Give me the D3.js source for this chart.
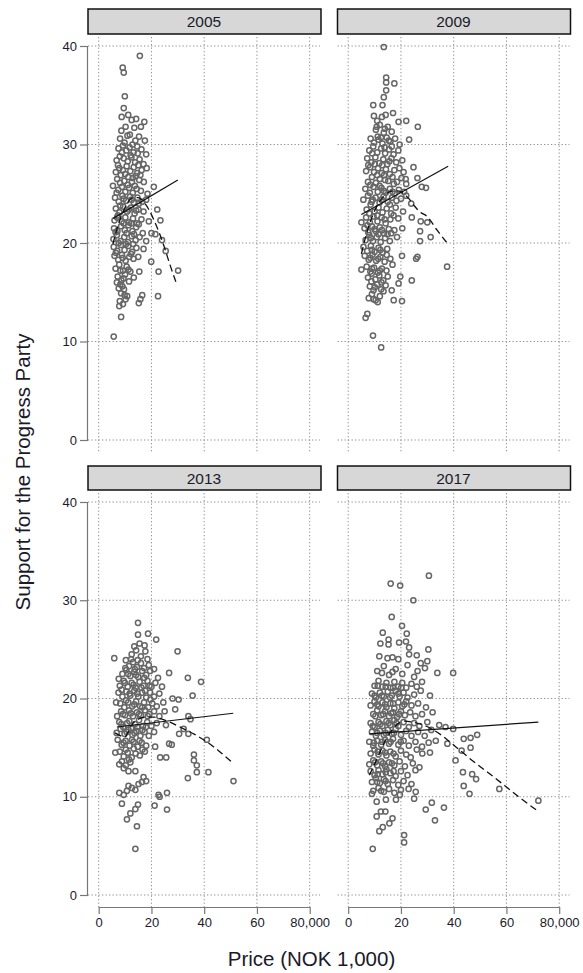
<!DOCTYPE html>
<html><head><meta charset="utf-8">
<script src="https://cdn.jsdelivr.net/npm/d3@7"></script>
<style>body{margin:0;background:#fff}svg{display:block}</style>
</head><body>
<script>
// ---------- DATA ----------
const years = ["2005", "2009", "2013", "2017"];
const yTicks = [0, 10, 20, 30, 40];
const xTicks = [0, 20, 40, 60, 80];
const xTickLabels = ["0", "20", "40", "60", "80,000"];
const xTitle = "Price (NOK 1,000)";
const yTitle = "Support for the Progress Party";

const pts2005 = [[15.6,39.0],[9.1,37.8],[9.5,37.3],[9.9,34.9],[9.5,33.7],[8.7,32.8],[11.2,33.0],[12.5,32.5],[14.2,32.6],[17.3,32.3],[16.0,31.8],[13.5,31.7],[10.2,31.8],[8.6,31.4],[11.8,31.0],[15.3,30.8],[17.5,30.4],[9.8,30.2],[12.8,30.0],[14.6,29.8],
[7.5,29.6],[8.8,29.2],[10.5,29.4],[11.7,29.7],[13.2,29.2],[14.8,29.1],[16.2,29.5],[18.0,29.0],
[6.8,28.4],[8.0,28.8],[9.5,28.6],[11.0,28.3],[12.4,28.7],[13.8,28.2],[15.5,28.5],[17.0,28.0],
[6.5,27.2],[7.8,27.6],[9.2,27.4],[10.6,27.8],[12.0,27.3],[13.3,27.7],[14.6,27.1],[16.3,27.4],[18.2,27.6],
[7.0,26.5],[8.4,26.9],[9.7,26.3],[11.2,26.7],[12.6,26.2],[14.0,26.8],[15.4,26.4],[17.1,26.2],
[5.4,25.8],[7.4,25.4],[8.8,25.7],[10.1,25.2],[11.5,25.6],[12.9,25.1],[14.4,25.5],[16.0,25.3],[20.9,25.7],[18.5,25.0],
[6.2,24.6],[7.6,24.2],[9.0,24.8],[10.4,24.3],[11.9,24.7],[13.3,24.1],[14.7,24.6],[16.5,24.2],[18.0,24.4],
[6.5,23.5],[7.9,23.1],[9.3,23.7],[10.8,23.2],[12.2,23.6],[13.6,23.0],[15.1,23.4],[17.0,23.2],[22.2,23.4],
[6.0,22.3],[7.3,22.8],[8.7,22.2],[10.1,22.6],[11.5,22.1],[13.0,22.5],[14.5,22.0],[16.2,22.4],[23.4,22.3],[19.0,22.2],
[5.8,21.5],[7.1,21.2],[8.5,21.7],[9.9,21.3],[11.3,21.8],[12.8,21.2],[14.2,21.6],[16.7,21.0],[20.0,21.0],[21.5,20.9],
[5.6,20.4],[6.9,20.8],[8.3,20.2],[9.7,20.6],[11.1,20.1],[12.5,20.7],[14.0,20.3],[15.5,20.6],[24.0,20.3],[18.0,20.2],
[5.7,19.6],[7.0,19.2],[8.4,19.8],[9.8,19.3],[11.2,19.7],[12.7,19.1],[14.3,19.5],[25.4,19.2],[17.0,19.4],
[6.0,18.7],[7.4,18.3],[8.8,18.8],[10.2,18.2],[11.6,18.6],[13.2,18.4],[19.9,18.1],[15.0,18.6],
[6.4,17.4],[7.8,17.8],[9.2,17.2],[10.6,17.6],[12.0,17.1],[15.4,17.1],[22.7,17.1],[30.1,17.2],
[7.2,16.6],[8.6,16.2],[10.0,16.8],[13.3,16.5],
[7.6,15.4],[8.5,14.9],[9.6,15.3],[10.8,14.6],[8.0,14.1],[9.2,13.8],[10.2,14.3],[7.8,13.6],[9.0,15.6],[16.5,14.7],[15.2,13.9],[15.8,14.3],[22.5,14.6],
[8.5,12.5],[5.7,10.5],
[8.1,30.6],[10.9,30.9],[13.9,30.4],[9.2,29.9],[12.1,28.9],[15.0,27.9],[7.3,27.9],[10.0,27.0],[12.9,26.6],[15.8,26.9],[8.1,26.1],[11.0,25.9],[13.7,25.8],[6.8,25.1],[9.5,24.5],[12.5,24.4],[15.3,24.0],[8.2,23.8],[11.4,23.4],[14.2,23.3],[7.0,22.6],[9.4,22.0],[12.3,22.0],[15.2,21.9],[6.4,21.1],[10.6,21.0],[13.4,20.9],[7.6,20.0],[10.4,19.9],[13.1,19.9],[6.5,19.0],[9.1,18.5],[12.2,18.9],[8.2,17.2],[11.3,17.3],[6.9,16.0],[9.4,16.4],[11.5,16.1],[8.2,15.8],[9.8,14.7]];

const pts2009 = [[13.5,39.9],[14.4,36.8],[14.4,36.3],[17.5,36.2],[14.4,35.5],[13.5,34.8],[13.0,34.0],[9.5,34.0],[17.0,33.2],[9.75,32.9],[11.0,32.4],[19.1,32.3],[22.0,32.4],[26.4,31.8],[23.1,30.5],
[10.5,31.5],[12.0,32.0],[13.5,31.2],[15.0,31.8],[16.5,31.3],[12.8,32.8],[14.2,33.0],[11.2,30.8],
[8.5,30.6],[9.8,30.2],[11.5,30.5],[13.0,30.1],[14.6,30.7],[16.0,30.3],[17.8,30.6],[19.5,30.0],
[8.0,29.4],[9.5,29.8],[11.0,29.2],[12.5,29.6],[14.0,29.1],[15.5,29.5],[17.2,29.0],[19.0,29.4],
[7.2,28.6],[8.8,28.2],[10.3,28.7],[11.8,28.1],[13.3,28.5],[14.8,28.0],[16.4,28.6],[18.2,28.2],[20.5,28.4],
[6.8,27.3],[8.3,27.7],[9.8,27.2],[11.3,27.6],[12.7,27.1],[14.3,27.5],[15.8,27.0],[17.5,27.4],[19.4,27.6],[21.0,27.2],
[7.5,26.2],[9.0,26.7],[10.5,26.1],[12.0,26.5],[13.6,26.9],[15.2,26.3],[16.8,26.7],[18.5,26.2],[20.2,26.6],[22.0,26.0],
[6.5,25.5],[8.2,25.1],[9.6,25.7],[11.2,25.2],[12.6,25.6],[14.2,25.1],[15.8,25.5],[17.6,25.0],[19.2,25.4],[21.2,25.2],
[5.75,24.4],[7.5,24.8],[8.9,24.2],[10.4,24.6],[11.9,24.1],[13.4,24.7],[15.0,24.2],[16.6,24.6],[18.3,24.3],[20.0,24.5],
[7.0,23.4],[8.5,23.9],[10.0,23.2],[11.5,23.6],[13.0,23.1],[14.6,23.5],[16.3,23.0],[18.0,23.6],[20.8,23.2],
[5.0,22.1],[6.8,22.6],[8.2,22.1],[9.6,22.7],[11.1,22.2],[12.7,22.6],[14.2,22.0],[16.0,22.4],[19.0,22.5],
[6.2,21.5],[7.6,21.1],[9.0,21.7],[10.5,21.2],[12.0,21.6],[13.6,21.0],[15.4,21.4],[17.5,21.3],
[6.6,20.3],[8.0,20.8],[9.4,20.2],[10.8,20.6],[12.3,20.1],[14.0,20.5],[15.8,20.2],[18.5,20.6],
[5.8,19.6],[7.2,19.2],[8.6,19.7],[10.0,19.1],[11.5,19.5],[13.0,19.0],[14.8,19.4],
[6.25,18.7],[7.8,18.3],[9.2,18.8],[10.6,18.2],[12.2,18.6],[13.8,18.1],[20.4,18.7],[16.0,18.4],
[5.0,17.3],[7.0,17.6],[8.4,17.1],[9.8,17.5],[11.3,17.0],[12.8,17.4],[14.5,17.2],[16.8,17.8],
[7.5,16.5],[8.9,16.9],[10.3,16.3],[11.8,16.7],[13.3,16.2],[15.0,16.6],[19.75,16.6],
[8.2,15.6],[9.6,15.2],[11.0,15.8],[12.5,15.3],[14.2,15.7],[19.1,15.9],[16.5,15.2],
[7.8,14.4],[9.0,14.8],[10.4,14.2],[12.0,14.6],[17.25,14.2],[20.4,14.1],[11.2,14.0],
[7.25,12.8],[6.6,12.4],[9.4,10.6],[12.5,9.4],
[24.1,22.6],[23.9,24.0],[27.5,22.2],[30.0,22.1],[31.25,20.6],[27.25,21.2],[27.25,20.2],[37.5,17.6],[26.25,18.6],[25.75,18.4],[24.1,16.2],[24.75,27.7],[26.25,26.6],[27.9,25.7],[29.5,25.6],[20.5,21.5],[22.0,24.8],[21.8,26.5],
[10.8,31.8],[13.9,31.6],[12.4,30.7],[15.4,30.4],[9.1,29.1],[13.8,29.7],[16.5,29.8],[10.1,28.0],[12.9,27.9],[15.6,28.3],[7.6,27.9],[11.0,26.9],[14.0,26.4],[17.3,26.0],[8.4,25.9],[11.9,25.8],[13.5,25.3],[16.8,25.2],[9.3,24.4],[12.7,24.4],[15.8,23.9],[8.0,23.0],[11.0,22.8],[13.8,22.4],[17.2,22.8],[7.3,21.8],[10.0,21.4],[12.8,21.3],[16.3,21.0],[8.6,20.5],[11.5,20.9],[14.9,20.9],[9.0,19.3],[12.2,19.3],[8.4,18.5],[11.4,18.4],[14.6,18.8],[9.0,17.4],[12.0,17.2],[8.8,16.1],[12.6,16.0],[10.1,15.5],[13.4,15.1],[9.6,14.3]];

const pts2013 = [[14.9,27.7],[14.9,26.5],[18.7,26.6],[21.8,26.0],[17.4,25.4],[17.7,24.8],[29.9,24.8],[5.9,24.1],[10.3,23.9],[26.7,22.6],[33.8,22.1],[38.8,21.7],[7.6,22.0],[35.6,20.3],[28.0,20.0],[30.3,19.9],[6.6,19.6],[25.0,18.7],[29.0,18.9],[34.0,18.2],[34.8,17.9],[30.5,16.4],[32.2,16.9],[34.0,16.4],[41.0,15.8],[26.7,15.4],[27.7,15.3],[21.4,15.1],[6.3,14.5],[23.3,14.0],[25.6,14.0],[36.1,14.3],[36.1,13.7],[37.2,13.2],[37.2,12.5],[41.6,12.5],[33.8,11.9],[51.1,11.6],[7.8,13.3],[11.3,12.6],[13.9,12.6],[17.0,12.0],[18.0,11.6],[16.4,11.5],[15.1,11.3],[11.3,11.1],[12.6,10.9],[13.9,10.7],[7.8,10.4],[9.5,10.2],[10.7,10.6],[8.8,9.3],[22.7,10.2],[23.1,10.0],[25.9,10.4],[21.2,9.1],[25.9,8.7],[14.9,9.2],[13.9,8.75],[12.0,8.3],[10.7,7.7],[14.5,7.0],[13.9,4.7],
[11.5,23.3],[13.0,23.7],[14.5,23.2],[16.0,23.6],[19.0,23.4],[21.0,23.0],
[9.0,22.5],[10.5,22.9],[12.0,22.3],[13.5,22.7],[15.0,22.2],[16.5,22.8],[18.0,22.4],[19.5,22.8],[22.5,22.1],
[8.0,21.3],[9.5,21.8],[11.0,21.2],[12.5,21.6],[14.0,21.1],[15.5,21.7],[17.0,21.3],[18.5,21.8],[20.0,21.2],[21.5,21.6],[24.0,21.2],
[7.5,20.6],[9.0,20.2],[10.5,20.7],[12.0,20.3],[13.5,20.8],[15.0,20.2],[16.5,20.6],[18.0,20.1],[19.5,20.6],[21.0,20.2],[23.0,20.5],
[8.2,19.5],[9.7,19.1],[11.2,19.6],[12.7,19.2],[14.2,19.7],[15.7,19.2],[17.2,19.6],[18.8,19.1],[20.3,19.5],[22.0,19.2],[24.5,19.6],
[7.0,18.2],[8.5,18.7],[10.0,18.3],[11.5,18.8],[13.0,18.2],[14.5,18.6],[16.0,18.3],[17.6,18.8],[19.2,18.4],[21.0,18.7],[23.0,18.2],
[7.8,17.6],[9.3,17.1],[10.8,17.5],[12.3,17.0],[13.8,17.4],[15.3,17.8],[16.8,17.2],[18.4,17.6],[20.0,17.2],[22.0,17.5],[25.5,17.3],
[6.8,16.5],[8.3,16.9],[9.8,16.4],[11.3,16.8],[12.8,16.3],[14.3,16.7],[15.8,16.2],[17.4,16.6],[19.0,16.2],[21.0,16.6],
[7.2,15.8],[8.7,15.3],[10.2,15.7],[11.7,15.2],[13.2,15.6],[14.8,15.1],[16.3,15.5],[18.0,15.2],
[8.0,14.6],[9.5,14.1],[11.0,14.5],[12.5,14.0],[14.0,14.4],[15.6,14.2],[17.5,14.6],
[8.8,13.6],[10.3,13.2],[12.0,13.5],[9.5,12.9],
[12.5,24.5],[14.2,24.9],[16.0,24.3],[13.5,25.3],[15.5,25.6],[18.5,24.0],
[12.3,24.0],[14.8,23.9],[10.1,23.1],[13.7,23.0],[17.2,23.1],[11.2,22.5],[14.2,22.4],[17.3,22.1],[9.9,21.6],[13.2,21.4],[16.2,21.1],[19.3,21.3],[8.7,20.9],[11.7,20.5],[14.6,20.5],[17.6,20.8],[10.4,19.8],[13.5,19.4],[16.5,19.1],[19.6,19.9],[9.2,18.4],[12.2,18.5],[15.3,18.4],[18.6,18.2],[8.6,17.4],[11.6,17.7],[14.6,17.1],[17.9,17.1],[10.6,16.6],[13.6,16.5],[16.6,16.8],[9.4,15.5],[12.6,15.8],[15.5,15.7],[10.3,14.8],[13.3,14.9],[16.6,14.8],[11.5,13.8]];

const pts2017 = [[16.1,31.7],[19.7,31.5],[30.6,32.5],[24.7,30.0],[16.5,28.3],[20.4,27.4],[13.1,26.7],[15.3,26.0],[22.2,26.6],[12.2,25.6],[15.3,25.5],[19.3,25.7],[21.9,25.8],[23.1,25.2],[30.4,25.0],[30.0,23.8],[11.8,24.3],[14.9,24.1],[16.8,24.2],[23.1,24.5],[12.8,22.6],[16.8,22.7],[26.3,22.8],[29.1,23.1],[33.8,22.6],[39.8,22.6],[36.9,17.1],[39.8,16.9],[33.2,15.7],[37.6,15.4],[43.8,15.9],[46.4,16.0],[48.9,16.3],[43.0,14.7],[46.4,15.0],[40.7,13.7],[43.5,12.5],[47.0,12.3],[48.5,11.8],[43.8,11.1],[46.0,10.3],[57.3,10.8],[72.1,9.6],[29.4,8.7],[31.7,9.4],[36.3,8.9],[32.9,7.6],[21.2,6.1],[21.2,5.35],[9.3,4.7],[11.8,6.5],[13.1,6.9],[15.6,7.3],[16.8,7.8],[12.4,8.5],[14.1,8.5],[10.8,8.0],[9.0,10.3],[10.8,9.5],[14.3,9.7],[18.1,9.7],[19.6,10.2],[25.0,9.8],[25.6,10.5],[22.9,10.8],[23.7,14.0],[28.1,14.4],
[10.0,21.3],[11.5,21.8],[13.0,21.2],[14.5,21.6],[16.0,21.1],[17.5,21.7],[19.0,21.2],[20.5,21.6],[22.0,21.1],[24.0,21.5],[26.0,21.2],[28.0,21.7],
[9.0,20.5],[10.5,20.1],[12.0,20.6],[13.5,20.2],[15.0,20.7],[16.5,20.3],[18.0,20.8],[19.5,20.2],[21.0,20.6],[22.5,20.1],[25.0,20.4],[27.5,20.8],[31.0,20.3],
[8.5,19.3],[10.0,19.7],[11.5,19.2],[13.0,19.6],[14.5,19.1],[16.0,19.5],[17.5,19.0],[19.0,19.6],[20.5,19.2],[22.0,19.7],[24.0,19.3],[26.5,19.5],[29.5,19.1],
[9.5,18.4],[11.0,18.8],[12.5,18.3],[14.0,18.7],[15.5,18.2],[17.0,18.6],[18.5,18.1],[20.0,18.7],[21.5,18.3],[23.5,18.6],[25.5,18.2],[28.0,18.4],[32.0,18.6],
[8.5,17.5],[10.0,17.1],[11.5,17.6],[13.0,17.2],[14.5,17.7],[16.0,17.3],[17.5,17.8],[19.0,17.2],[21.0,17.6],[23.0,17.1],[25.0,17.5],[27.0,17.2],[30.0,17.6],[34.5,17.3],
[9.0,16.6],[10.5,16.2],[12.0,16.7],[13.5,16.3],[15.0,16.8],[16.5,16.4],[18.0,16.9],[20.0,16.3],[22.0,16.7],[24.0,16.2],[26.5,16.6],[29.0,16.2],[31.5,16.8],
[8.0,15.6],[9.5,15.2],[11.0,15.7],[12.5,15.3],[14.0,15.8],[15.5,15.4],[17.0,15.9],[19.0,15.3],[21.0,15.7],[23.0,15.2],[25.5,15.6],[28.0,15.1],[30.5,15.5],
[8.5,14.4],[10.0,14.8],[11.5,14.3],[13.0,14.7],[14.5,14.2],[16.0,14.6],[18.0,14.1],[20.0,14.7],[22.0,14.3],[26.0,14.8],[31.0,14.5],
[8.0,13.3],[9.5,13.7],[11.0,13.2],[12.5,13.6],[14.0,13.1],[15.5,13.5],[17.5,13.2],[19.5,13.6],[21.5,13.1],[24.5,13.4],[27.0,13.0],
[8.5,12.6],[10.0,12.2],[11.5,12.7],[13.0,12.3],[14.5,12.8],[16.0,12.4],[18.0,12.1],[20.0,12.6],[22.5,12.2],[25.5,12.7],
[9.0,11.5],[10.5,11.9],[12.0,11.4],[13.5,11.8],[15.0,11.3],[17.0,11.7],[19.0,11.2],[21.0,11.6],[24.0,11.3],
[9.5,10.6],[11.5,10.9],[13.5,10.5],[15.5,10.8],[17.5,10.4],[20.0,10.7],
[11.0,22.8],[13.5,23.3],[15.5,22.4],[18.0,23.0],[20.5,22.5],[22.5,23.4],[25.0,22.2],[27.5,23.6],[19.0,24.0],[26.0,24.4],
[11.2,21.3],[14.2,21.2],[17.0,21.1],[20.1,21.1],[10.0,20.3],[12.8,20.3],[15.9,20.1],[19.0,20.5],[11.0,19.4],[14.0,19.4],[17.0,19.5],[21.3,19.4],[10.3,18.2],[13.3,18.4],[16.3,18.5],[19.3,18.4],[9.3,17.2],[12.2,17.4],[15.3,17.5],[18.3,17.5],[11.0,16.5],[14.2,16.5],[17.3,16.5],[9.7,15.5],[12.8,15.6],[16.1,15.6],[19.9,15.6],[11.2,14.6],[14.0,14.5],[17.2,14.4],[10.2,13.5],[13.2,13.4],[16.6,13.4],[11.2,12.3],[14.2,12.5],[17.2,12.6],[11.0,11.5],[14.2,11.6],[12.5,10.6]];

// linear fit (solid) and flexible fit (dashed)
const lin2005 = [[5.5,22.5],[30.0,26.4]];
const lin2009 = [[5.0,22.9],[37.9,27.8]];
const lin2013 = [[6.9,17.1],[51.0,18.5]];
const lin2017 = [[8.0,16.4],[72.1,17.6]];
const fit2005 = [[5.4,19.9],[7,21.5],[9,23.0],[11,24.1],[13,24.6],[15,24.6],[17,24.2],[19,23.4],[21,22.3],[23,21.0],[25,19.5],[27,17.8],[29.5,15.9]];
const fit2009 = [[5,18.9],[7,21.0],[9,22.6],[11,23.8],[13,24.6],[15,25.1],[17,25.3],[19,25.3],[21,25.0],[23,24.5],[25,23.8],[27,23.2],[29.9,22.7],[33.7,21.3],[37.5,20.0]];
const fit2013 = [[6.2,16.5],[10,16.1],[11,16.5],[12.5,17.3],[15,17.9],[18,18.1],[21,18.1],[24,17.9],[27,17.6],[30,17.2],[33,16.8],[36,16.4],[38.5,16.0],[41.5,15.5],[43.5,15.1],[46.7,14.4],[51,13.4]];
const fit2017 = [[8,12.2],[11.2,14.0],[13.5,15.4],[15.6,16.4],[18.7,17.4],[21.5,17.7],[24.4,17.6],[29.4,17.2],[35.7,16.2],[40.7,15.1],[47,13.7],[53.3,12.4],[59.5,11.1],[64.6,10.0],[72.1,8.5]];

const panelPoints = [pts2005, pts2009, pts2013, pts2017];
const panelLin = [lin2005, lin2009, lin2013, lin2017];
const panelFit = [fit2005, fit2009, fit2013, fit2017];

// ---------- LAYOUT ----------
const W = 583, H = 973;
const FONT = "'Liberation Sans', Arial, Helvetica, sans-serif";
const cols = [{left: 88, right: 320}, {left: 337.5, right: 569.5}];
const rows = [
  {stripTop: 9, stripBot: 34, plotTop: 37, y40: 46, y0: 440, plotBot: 452},
  {stripTop: 466, stripBot: 490, plotTop: 493, y40: 502, y0: 895, plotBot: 907}
];

const svg = d3.select("body").append("svg").attr("width", W).attr("height", H)
  .style("font-family", FONT);

years.forEach((yr, i) => {
  const c = cols[i % 2], r = rows[Math.floor(i / 2)];
  const x = d3.scaleLinear().domain([0, 80]).range([c.left + 10.7, c.left + 221.7]);
  const y = d3.scaleLinear().domain([0, 40]).range([r.y0, r.y40]);
  const g = svg.append("g");

  // grid
  g.selectAll("line.hg").data(yTicks).join("line")
    .attr("x1", c.left).attr("x2", c.right)
    .attr("y1", d => y(d)).attr("y2", d => y(d))
    .attr("stroke", "#8f8f8f").attr("stroke-width", 1)
    .attr("stroke-dasharray", "1.3,2.2");
  g.selectAll("line.vg").data(xTicks).join("line")
    .attr("x1", d => x(d)).attr("x2", d => x(d))
    .attr("y1", r.plotTop).attr("y2", r.plotBot)
    .attr("stroke", "#8f8f8f").attr("stroke-width", 1)
    .attr("stroke-dasharray", "1.3,2.2");

  // strip
  g.append("rect").attr("x", c.left).attr("y", r.stripTop)
    .attr("width", c.right - c.left + 1).attr("height", r.stripBot - r.stripTop)
    .attr("fill", "#d7d7d7").attr("stroke", "#111").attr("stroke-width", 1.5);
  g.append("text").attr("x", (c.left + c.right) / 2).attr("y", (r.stripTop + r.stripBot) / 2)
    .attr("dy", "0.36em").attr("text-anchor", "middle")
    .attr("font-size", 15.5).attr("fill", "#1a1a2a").text(yr);

  // y axis (left column)
  if (i % 2 === 0) {
    const ya = d3.axisLeft(y).tickValues(yTicks).tickSize(8).tickPadding(3).tickFormat(d3.format("d"));
    const ag = g.append("g").attr("transform", `translate(${c.left},0)`).call(ya);
    ag.select(".domain").attr("stroke", "#777").attr("stroke-width", 1.2).attr("d", `M-0.5,${y(40)}V${y(0)}`);
    ag.selectAll(".tick line").attr("stroke", "#777").attr("stroke-width", 1.2);
    ag.selectAll(".tick text").attr("font-size", 13).attr("font-family", FONT).attr("fill", "#1a1a2a");
  }
  // x axis (bottom row)
  if (i >= 2) {
    const xa = d3.axisBottom(x).tickValues(xTicks).tickSize(7).tickPadding(4)
      .tickFormat((d, k) => xTickLabels[k]);
    const ag = g.append("g").attr("transform", `translate(0,${r.plotBot})`).call(xa);
    ag.select(".domain").attr("stroke", "#777").attr("stroke-width", 1.2).attr("d", `M${x(0)},0.5H${x(80)}`);
    ag.selectAll(".tick line").attr("stroke", "#777").attr("stroke-width", 1.2);
    ag.selectAll(".tick text").attr("font-size", 13).attr("font-family", FONT).attr("fill", "#1a1a2a");
  }

  // points
  g.append("g").selectAll("circle").data(panelPoints[i]).join("circle")
    .attr("cx", d => x(d[0])).attr("cy", d => y(d[1])).attr("r", 2.6)
    .attr("fill", "none").attr("stroke", "#666").attr("stroke-width", 1.5);

  // fit lines
  const line = d3.line().x(d => x(d[0])).y(d => y(d[1]));
  g.append("path").attr("d", line(panelLin[i])).attr("fill", "none")
    .attr("stroke", "#111").attr("stroke-width", 1.2);
  g.append("path").attr("d", line.curve(d3.curveMonotoneX)(panelFit[i])).attr("fill", "none")
    .attr("stroke", "#111").attr("stroke-width", 1.3).attr("stroke-dasharray", "7,4");
});

// axis titles
svg.append("text").attr("x", 311.5).attr("y", 966).attr("text-anchor", "middle")
  .attr("font-size", 20.5).attr("fill", "#1a1a2a").text(xTitle);
svg.append("text").attr("transform", "translate(30,472) rotate(-90)").attr("text-anchor", "middle")
  .attr("font-size", 20.5).attr("fill", "#1a1a2a").text(yTitle);
</script>
</body></html>
